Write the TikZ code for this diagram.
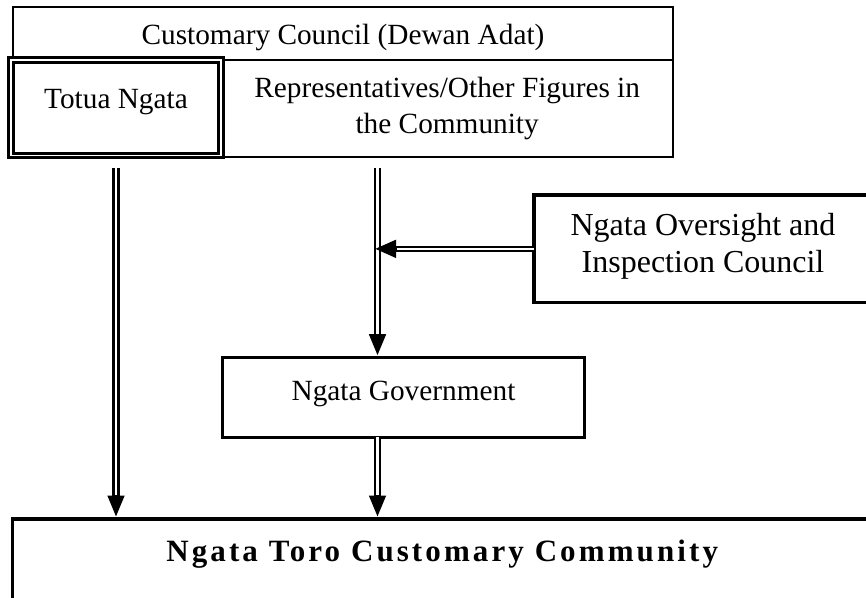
\documentclass[tikz,border=0pt]{standalone}
\usepackage{fontspec}
\setmainfont{Liberation Serif}
\newfontfamily\spacedserif[LetterSpace=10]{Liberation Serif}
\usetikzlibrary{arrows.meta}
\begin{document}
\begin{tikzpicture}[x=1pt,y=-1pt,
  every node/.style={font=\fontsize{29.3}{36.7}\selectfont},
  thinbox/.style={draw, line width=2pt, inner sep=0pt, outer sep=0pt, anchor=north west},
  thickbox/.style={draw, line width=3.3pt, inner sep=0pt, outer sep=0pt, anchor=north west},
  dblbox/.style={draw, double, line width=3pt, double distance=1.7pt, inner sep=0pt, outer sep=0pt, anchor=north west},
  vshaft/.style={line width=7.6pt, -{Triangle[length=22pt,width=15.5pt]}},
  vcore/.style={white, line width=2.8pt},
  hshaft/.style={line width=6.3pt, -{Triangle[length=21.7pt,width=16.7pt]}},
  hcore/.style={white, line width=1.9pt},
]
\useasboundingbox (0,0) rectangle (866,597);
\clip (0,0) rectangle (866,597);
\fill[white] (0,0) rectangle (866,597);

\node[thinbox, minimum width=660.6pt, text height=37.3pt, text depth=113pt] (council) at (12.7,6.7) {Customary Council (Dewan Adat)};
\node[thinbox, minimum width=452.3pt, minimum height=97.3pt, align=center] (rep) at (221,59.7) {Representatives/Other Figures in\\the Community};
\node[dblbox, minimum width=210pt, text height=48.6pt, text depth=47.2pt] (totua) at (11,59.7) {Totua Ngata};
\node[thickbox, minimum width=338pt, minimum height=107.7pt, align=center, font=\fontsize{32}{37}\selectfont] (oversight) at (534,195) {Ngata Oversight and\\Inspection Council\rule[-12pt]{0pt}{12pt}};
\node[thickbox, minimum width=362.4pt, text height=43pt, text depth=36.6pt] (gov) at (222.3,357.7) {Ngata Government};
\node[thickbox, minimum width=859pt, text height=42pt, text depth=100pt, font=\spacedserif\bfseries\fontsize{31}{36}\selectfont] (community) at (12.7,519) {Ngata Toro Customary Community};

\coordinate (mx) at (377.5,0);

% Totua Ngata -> community
\draw[vshaft, shorten <=12.8pt, shorten >=1.5pt] (totua.south) -- (totua.south |- community.north);
\draw[vcore, shorten <=12.8pt, shorten >=24pt] (totua.south) -- (totua.south |- community.north);
% representatives -> government
\draw[vshaft, shorten <=11pt, shorten >=1.5pt] (rep.south -| mx) -- (gov.north -| mx);
\draw[vcore, shorten <=11pt, shorten >=24pt] (rep.south -| mx) -- (gov.north -| mx);
% oversight -> vertical line
\draw[hshaft, shorten >=-3pt] (oversight.west) -- (oversight.west -| mx);
\draw[hcore, shorten >=19.2pt] (oversight.west) -- (oversight.west -| mx);
% government -> community
\draw[vshaft, shorten >=1.5pt] (gov.south -| mx) -- (community.north -| mx);
\draw[vcore, shorten >=24pt] (gov.south -| mx) -- (community.north -| mx);
\end{tikzpicture}
\end{document}
